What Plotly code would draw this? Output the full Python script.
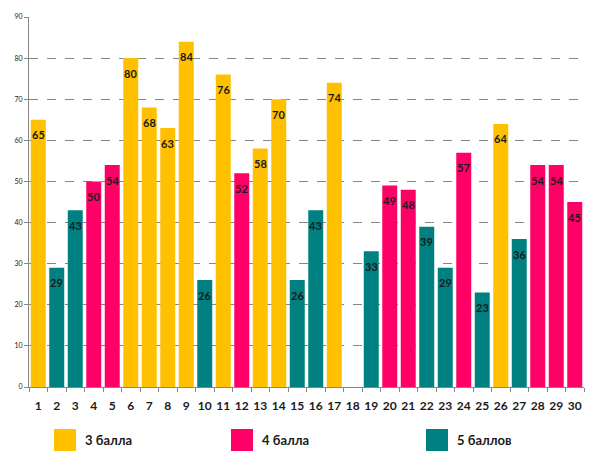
import plotly.graph_objects as go

# student number, score and grade group (18 has no result)
students = [str(i) for i in range(1, 31)]
scores = [65, 29, 43, 50, 54, 80, 68, 63, 84, 26,
          76, 52, 58, 70, 26, 43, 74, None, 33, 49,
          48, 39, 29, 57, 23, 64, 36, 54, 54, 45]
grades = [3, 5, 5, 4, 4, 3, 3, 3, 3, 5,
          3, 4, 3, 3, 5, 5, 3, None, 5, 4,
          4, 5, 5, 4, 5, 3, 5, 4, 4, 4]
grade_names = ["3 балла", "4 балла", "5 баллов"]
grade_colors = {3: "#FFC000", 4: "#FF0066", 5: "#008080"}

font = "Lato, 'Noto Sans', sans-serif"
bar_colors = [grade_colors.get(g, "white") for g in grades]

fig = go.Figure()
fig.add_trace(go.Bar(x=students, y=scores, marker_color=bar_colors,
                     marker_line_width=0, showlegend=False, hoverinfo="x+y"))

# value labels just inside the top of each bar
# (x given as category index, "1" as a string would be read as index 1)
for i, v in enumerate(scores):
    if v is None:
        continue
    fig.add_annotation(x=i, y=v, text="<b>%d</b>" % v, showarrow=False,
                       yshift=-15, font=dict(family=font, size=11, color="#1a1a1a"))

# hand-made legend with big square swatches
legend_x = [54, 231, 426]
for name, g, lx in zip(grade_names, [3, 4, 5], legend_x):
    fig.add_shape(type="rect", xref="paper", yref="paper",
                  x0=(lx - 29) / 555, x1=(lx + 22 - 29) / 555,
                  y0=(387 - 451) / 370, y1=(387 - 429) / 370,
                  fillcolor=grade_colors[g], line_width=0)
    fig.add_annotation(xref="paper", yref="paper", x=(lx + 29 - 29) / 555,
                       y=(387 - 440) / 370, xanchor="left", yanchor="middle",
                       text="<b>%s</b>" % name, showarrow=False,
                       font=dict(family=font, size=13, color="#1a1a1a"))

fig.update_layout(
    width=595, height=465,
    margin=dict(l=29, r=11, t=17, b=78),
    paper_bgcolor="white", plot_bgcolor="white",
    bargap=0.19,
    font=dict(family=font, color="#1a1a1a"),
)
fig.update_xaxes(type="category", categoryorder="array", categoryarray=students,
                 showline=True, linecolor="#868686", linewidth=1,
                 ticks="outside", tickson="boundaries", ticklen=4, tickcolor="#868686",
                 ticklabelstandoff=8, showgrid=False, tickangle=0, automargin=False,
                 tickfont=dict(family=font, size=12, color="#1a1a1a", weight="bold"))
fig.update_yaxes(range=[0, 90], dtick=10, showline=True, linecolor="#868686",
                 ticks="outside", ticklen=4, tickcolor="#868686",
                 showgrid=True, gridcolor="#868686", griddash="dash", gridwidth=1,
                 zeroline=False, automargin=False, ticklabelstandoff=0,
                 tickfont=dict(family=font, size=7, color="#1a1a1a"))

# drop the default 8px page margin so the figure sits at the window corner
fig.write_html("out.html", config={"displayModeBar": False},
               post_script="document.body.style.margin='0';")
